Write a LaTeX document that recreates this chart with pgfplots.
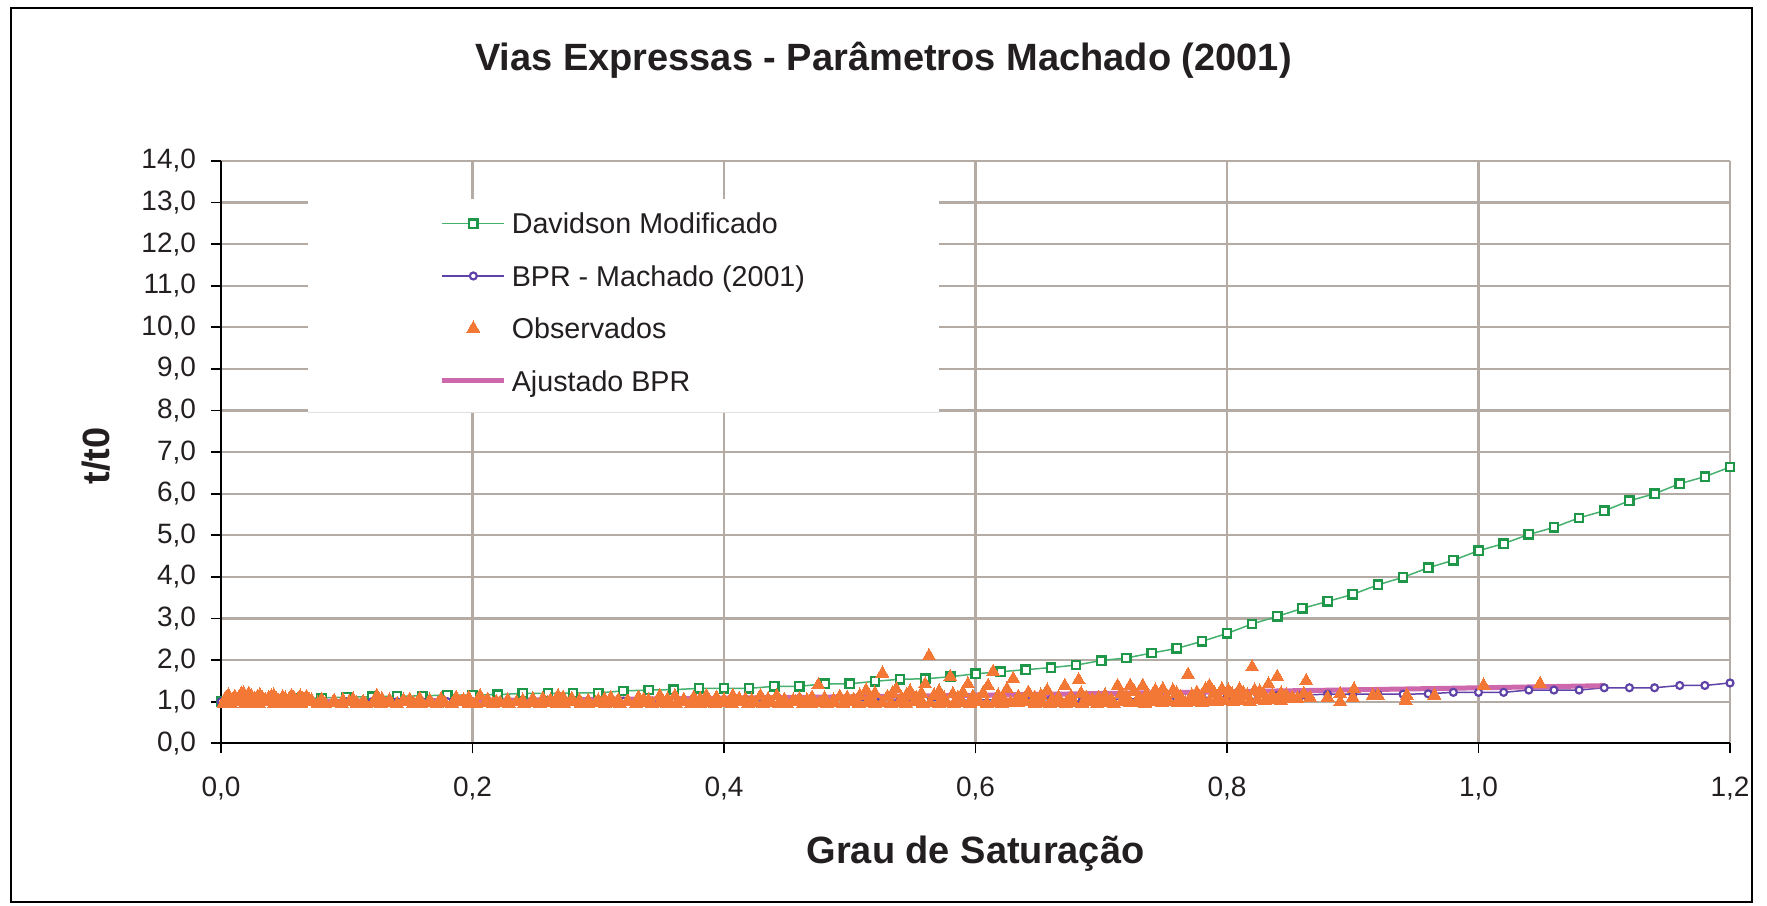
\documentclass[border=0pt]{standalone}
\usepackage{fontspec}
\setmainfont{Liberation Sans}
\usepackage{pgfplots}
\pgfplotsset{compat=1.18}
\usepackage{pgfplotstable}
\definecolor{gridc}{RGB}{180,172,164}
\definecolor{dgreen}{RGB}{30,152,72}
\definecolor{lgreen}{RGB}{70,176,110}
\definecolor{bpurple}{RGB}{94,66,168}
\definecolor{obsor}{RGB}{243,119,53}
\definecolor{pinkc}{RGB}{206,104,172}
\definecolor{txt}{RGB}{35,31,32}

\pgfplotstableread{
x y
0.00 1.00
0.02 1.03
0.04 1.05
0.06 1.07
0.08 1.09
0.10 1.11
0.12 1.12
0.14 1.13
0.16 1.14
0.18 1.16
0.20 1.16
0.22 1.17
0.24 1.20
0.26 1.20
0.28 1.21
0.30 1.21
0.32 1.26
0.34 1.28
0.36 1.29
0.38 1.32
0.40 1.32
0.42 1.32
0.44 1.37
0.46 1.37
0.48 1.43
0.50 1.43
0.52 1.49
0.54 1.54
0.56 1.55
0.58 1.60
0.60 1.67
0.62 1.72
0.64 1.77
0.66 1.82
0.68 1.88
0.70 1.99
0.72 2.05
0.74 2.17
0.76 2.28
0.78 2.45
0.80 2.64
0.82 2.87
0.84 3.05
0.86 3.245
0.88 3.41
0.90 3.58
0.92 3.81
0.94 3.99
0.96 4.22
0.98 4.40
1.00 4.63
1.02 4.80
1.04 5.02
1.06 5.19
1.08 5.42
1.10 5.59
1.12 5.83
1.14 6.00
1.16 6.24
1.18 6.41
1.20 6.64
}\davidson

\pgfplotstableread{
x y
0.00 1.00
0.02 1.00
0.04 1.00
0.06 1.00
0.08 1.00
0.10 1.00
0.12 1.00
0.14 1.00
0.16 1.00
0.18 1.00
0.20 1.00
0.22 1.00
0.24 1.00
0.26 1.01
0.28 1.01
0.30 1.01
0.32 1.01
0.34 1.01
0.36 1.01
0.38 1.02
0.40 1.02
0.42 1.02
0.44 1.03
0.46 1.04
0.48 1.04
0.50 1.04
0.52 1.04
0.54 1.04
0.56 1.04
0.58 1.04
0.60 1.04
0.62 1.05
0.64 1.05
0.66 1.05
0.68 1.06
0.70 1.06
0.72 1.06
0.74 1.08
0.76 1.08
0.78 1.10
0.80 1.11
0.82 1.13
0.84 1.15
0.86 1.16
0.88 1.18
0.90 1.18
0.92 1.18
0.94 1.18
0.96 1.19
0.98 1.225
1.00 1.225
1.02 1.225
1.04 1.28
1.06 1.28
1.08 1.28
1.10 1.335
1.12 1.335
1.14 1.335
1.16 1.39
1.18 1.39
1.20 1.45
}\bprm

\pgfplotstableread{
x y
0.00 1.000
0.05 1.004
0.10 1.011
0.15 1.019
0.20 1.030
0.25 1.042
0.30 1.055
0.35 1.069
0.40 1.084
0.45 1.101
0.50 1.118
0.55 1.136
0.60 1.155
0.65 1.175
0.70 1.196
0.75 1.217
0.80 1.239
0.85 1.262
0.90 1.285
0.95 1.309
1.00 1.334
1.05 1.359
1.10 1.385
}\ajust

\pgfplotstableread{
x y
0.002 0.96
0.008 0.94
0.013 0.99
0.019 0.95
0.025 0.97
0.030 0.94
0.036 1.00
0.042 0.95
0.047 0.98
0.053 0.94
0.059 0.97
0.064 0.95
0.070 0.99
0.077 0.96
0.083 0.94
0.089 0.98
0.096 0.95
0.102 1.00
0.108 0.96
0.115 0.94
0.121 0.98
0.127 0.95
0.134 0.97
0.140 0.94
0.146 0.99
0.153 0.96
0.159 0.95
0.165 0.98
0.172 0.94
0.178 0.97
0.184 0.95
0.191 0.99
0.197 0.96
0.203 0.94
0.210 0.98
0.216 0.95
0.222 0.97
0.229 0.96
0.235 0.99
0.241 0.95
0.248 0.97
0.254 0.94
0.260 0.98
0.267 0.96
0.273 0.95
0.279 0.99
0.286 0.96
0.292 0.94
0.298 0.98
0.305 0.95
0.311 0.97
0.317 0.96
0.324 0.99
0.330 0.95
0.336 0.97
0.343 0.94
0.349 0.98
0.355 0.96
0.362 0.95
0.368 0.99
0.374 0.96
0.381 0.94
0.387 0.98
0.393 0.95
0.400 0.97
0.406 0.96
0.412 0.99
0.419 0.95
0.425 0.97
0.431 0.94
0.438 0.98
0.444 0.96
0.450 0.95
0.457 0.99
0.463 0.96
0.469 0.95
0.476 0.98
0.482 0.96
0.488 0.97
0.495 0.95
0.501 0.99
0.507 0.96
0.514 0.97
0.520 0.95
0.526 0.98
0.533 0.96
0.539 0.97
0.545 0.95
0.552 0.99
0.558 0.96
0.564 0.97
0.571 0.95
0.577 0.98
0.583 0.96
0.590 0.97
0.596 0.95
0.602 0.99
0.609 0.96
0.615 0.97
0.621 0.95
0.628 0.98
0.634 0.97
0.640 0.99
0.647 0.96
0.653 0.97
0.659 0.95
0.666 0.98
0.672 0.96
0.678 0.97
0.685 0.95
0.691 0.99
0.697 0.96
0.704 0.97
0.710 0.96
0.716 0.99
0.723 0.97
0.729 0.98
0.735 0.96
0.742 0.99
0.748 0.97
0.754 1.00
0.761 0.98
0.767 0.97
0.773 1.00
0.780 0.98
0.786 1.01
0.792 0.99
0.799 1.02
0.805 1.00
0.811 1.03
0.818 1.01
0.824 1.04
0.830 1.02
0.837 1.05
0.843 1.03
0.849 1.06
0.003 1.02
0.004 1.10
0.006 1.15
0.009 1.05
0.011 1.12
0.012 1.01
0.014 1.08
0.016 1.18
0.018 1.20
0.020 1.10
0.021 1.03
0.022 1.19
0.024 1.14
0.027 1.06
0.028 1.00
0.029 1.12
0.031 1.15
0.033 1.08
0.035 1.04
0.037 1.02
0.038 1.10
0.040 1.13
0.042 1.15
0.044 1.07
0.045 1.01
0.046 1.02
0.049 1.11
0.051 1.08
0.052 1.02
0.054 1.05
0.056 1.14
0.058 1.09
0.060 1.00
0.061 1.04
0.063 1.13
0.065 1.07
0.067 1.02
0.068 1.12
0.070 1.05
0.072 1.03
0.080 1.05
0.090 1.02
0.097 1.03
0.105 1.06
0.113 1.00
0.124 1.14
0.128 1.06
0.134 1.04
0.145 1.03
0.150 1.05
0.158 1.07
0.166 1.03
0.175 1.06
0.187 1.10
0.193 1.04
0.197 1.09
0.206 1.14
0.212 1.05
0.219 1.00
0.228 1.04
0.240 1.03
0.248 1.06
0.256 1.07
0.262 1.03
0.268 1.14
0.272 1.10
0.279 1.07
0.285 1.03
0.292 1.02
0.300 1.03
0.305 1.06
0.310 1.09
0.316 1.04
0.323 1.00
0.332 1.10
0.336 1.05
0.340 1.03
0.349 1.14
0.355 1.06
0.361 1.14
0.368 1.04
0.376 1.10
0.381 1.06
0.386 1.14
0.394 1.10
0.400 1.04
0.407 1.14
0.412 1.07
0.417 1.06
0.422 1.03
0.429 1.14
0.435 1.06
0.442 1.14
0.448 1.05
0.455 1.03
0.460 1.07
0.466 1.03
0.470 1.10
0.475 1.40
0.480 1.08
0.487 1.03
0.492 1.12
0.498 1.10
0.503 1.05
0.508 1.15
0.513 1.27
0.516 1.10
0.520 1.20
0.526 1.68
0.530 1.12
0.534 1.20
0.537 1.30
0.541 1.08
0.545 1.15
0.548 1.25
0.553 1.10
0.557 1.20
0.560 1.42
0.563 2.10
0.567 1.15
0.571 1.25
0.575 1.08
0.580 1.60
0.582 1.18
0.586 1.10
0.590 1.22
0.594 1.42
0.598 1.12
0.602 1.05
0.606 1.20
0.610 1.38
0.614 1.72
0.618 1.15
0.622 1.08
0.625 1.30
0.630 1.55
0.634 1.12
0.638 1.05
0.642 1.22
0.647 1.10
0.652 1.15
0.657 1.27
0.661 1.05
0.666 1.10
0.671 1.38
0.676 1.12
0.682 1.52
0.684 1.20
0.688 1.10
0.693 1.05
0.698 1.10
0.703 1.15
0.708 1.05
0.713 1.38
0.716 1.20
0.720 1.12
0.723 1.38
0.726 1.25
0.730 1.10
0.733 1.38
0.736 1.18
0.740 1.08
0.743 1.27
0.746 1.15
0.749 1.30
0.752 1.10
0.757 1.27
0.760 1.20
0.763 1.12
0.769 1.65
0.772 1.15
0.776 1.22
0.780 1.10
0.783 1.30
0.786 1.38
0.790 1.20
0.793 1.12
0.796 1.30
0.801 1.27
0.804 1.18
0.807 1.12
0.810 1.30
0.813 1.20
0.816 1.15
0.820 1.83
0.822 1.27
0.826 1.25
0.829 1.18
0.833 1.42
0.836 1.15
0.840 1.60
0.843 1.20
0.847 1.15
0.852 1.10
0.856 1.08
0.861 1.19
0.863 1.50
0.866 1.10
0.880 1.10
0.890 1.19
0.890 0.99
0.901 1.30
0.900 1.10
0.916 1.15
0.920 1.15
0.942 1.03
0.943 1.15
0.965 1.15
1.004 1.39
1.049 1.43
}\observ

\begin{document}
\begin{tikzpicture}
\useasboundingbox (-66.3pt,-48.81pt) rectangle (463.8pt,222.99pt);
\draw[line width=0.6pt, black] (-63pt,-47.6pt) rectangle (459.4pt,220.6pt);
\begin{axis}[
  scale only axis,
  width=452.7pt, height=174.7pt,
  xmin=0, xmax=1.2, ymin=0, ymax=14,
  clip=false,
  axis x line*=bottom, axis y line*=left,
  axis line style={black, line width=0.6pt},
  xtick={0,0.2,0.4,0.6,0.8,1.0,1.2},
  ytick={0,1,2,3,4,5,6,7,8,9,10,11,12,13,14},
  tick align=outside,
  major tick length=3pt,
  tick style={black, line width=0.5pt},
  grid=major,
  major grid style={gridc, line width=0.7pt},
  tick label style={font=\fontsize{8.4}{10}\selectfont, text=txt},
  xticklabel style={inner sep=0pt, yshift=-7pt},
  yticklabel style={inner sep=0pt, xshift=-4.3pt},
  xticklabel={\pgfmathprintnumber[fixed, fixed zerofill, precision=1, use comma, assume math mode=true]{\tick}},
  yticklabel={\pgfmathprintnumber[fixed, fixed zerofill, precision=1, use comma, assume math mode=true]{\tick}},
  title={Vias Expressas - Parâmetros Machado (2001)},
  title style={at={(axis description cs:0.439,1.1214)}, anchor=base, font=\bfseries\fontsize{11.4}{13}\selectfont, text=txt},
  xlabel={Grau de Saturação},
  xlabel style={at={(axis description cs:0.5,-0.2061)}, anchor=base, font=\bfseries\fontsize{11.4}{13}\selectfont, text=txt},
  ylabel={t/t0},
  ylabel style={at={(axis description cs:-0.0740,0.4934)}, anchor=base, rotate=0, font=\bfseries\fontsize{11.4}{13}\selectfont, text=txt},
  legend image code/.code={\draw[mark repeat=2,mark phase=2,#1] plot coordinates {(0pt,0pt) (9.3pt,0pt) (18.6pt,0pt)};},
  legend cell align=left,
  legend style={at={(axis cs:0.1735,12.76)}, anchor=north west, draw=none, fill=none, inner sep=0pt,
    row sep=9.53pt, column sep=1.5pt,
    nodes={inner sep=0pt, text height=6.2pt, text depth=0pt, text=txt},
    font=\fontsize{8.6}{10}\selectfont},
]
\fill[white] (axis cs:0.0688,7.96) rectangle (axis cs:0.5706,13.08);
\draw[black!12, line width=0.4pt] (axis cs:0.0688,7.96) -- (axis cs:0.5706,7.96);
\addplot[color=lgreen, line width=0.45pt, mark=square*, mark size=1.25pt,
  mark options={draw=dgreen, fill=white, line width=0.7pt}] table[x=x,y=y] {\davidson};
\addlegendentry{Davidson Modificado}
\addplot[color=bpurple, line width=0.45pt, mark=*, mark size=1.05pt,
  mark options={draw=bpurple, fill=white, line width=0.65pt}] table[x=x,y=y] {\bprm};
\addlegendentry{BPR - Machado (2001)}
\addplot[forget plot, color=pinkc, line width=1.5pt, no marks] table[x=x,y=y] {\ajust};
\addplot[only marks, mark=triangle*, mark size=2.25pt,
  mark options={draw=obsor, fill=obsor, line width=0pt}] table[x=x,y=y] {\observ};
\addlegendentry{Observados}
\addlegendimage{color=pinkc, line width=1.5pt, no marks}
\addlegendentry{Ajustado BPR}
\end{axis}
\end{tikzpicture}
\end{document}
